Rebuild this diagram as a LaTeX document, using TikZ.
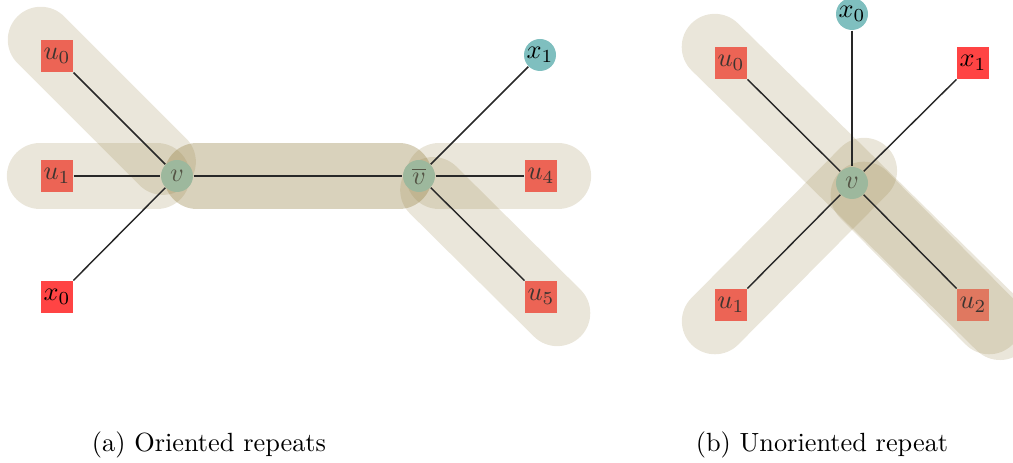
\documentclass[tikz,border=0pt]{standalone}
\usetikzlibrary{calc,backgrounds}
\definecolor{hlc}{RGB}{150,130,70}
\definecolor{ured}{RGB}{236,100,85}
\definecolor{xred}{RGB}{255,68,68}
\definecolor{xteal}{RGB}{127,191,191}
\definecolor{vgreen}{RGB}{157,184,157}
\definecolor{utwo}{RGB}{224,120,96}
\definecolor{edgec}{RGB}{40,40,40}
\begin{document}
\begin{tikzpicture}[x=0.38pt,y=-0.38pt,
  sq/.style={rectangle,draw=none,inner sep=0pt,minimum size=12.16pt,font=\color[RGB]{60,52,48}},
  usq/.style={sq,fill=ured},
  xsq/.style={sq,fill=xred,font=\color{black}},
  tcirc/.style={circle,draw=none,inner sep=0pt,minimum size=12.16pt,fill=xteal},
  vcirc/.style={circle,draw=none,inner sep=0pt,minimum size=12.16pt,fill=vgreen,font=\color[RGB]{85,85,70}},
  band/.style={line width=25.1pt,line cap=round,draw=hlc,draw opacity=0.2},
  edge/.style={draw=edgec,line width=0.55pt},
  captext/.style={font=\normalsize}]
\useasboundingbox (0,0) rectangle (1013,463);

% (a) two oriented repeats around v and its reverse
\node[usq] (au0) at (57,56) {$u_0$};
\node[usq] (au1) at (57,176) {$u_1$};
\node[xsq] (ax0) at (57,297) {$x_0$};
\node[vcirc] (av) at (177,176) {$v$};
\node[vcirc] (avb) at (419,176) {$\overline{v}$};
\node[tcirc] (ax1) at (540,55) {$x_1$};
\node[usq] (au4) at (541,176) {$u_4$};
\node[usq] (au5) at (541,297) {$u_5$};

% (b) one unoriented repeat through v
\node[tcirc] (bx0) at (852,14) {$x_0$};
\node[usq] (bu0) at (731,63) {$u_0$};
\node[xsq] (bx1) at (973,63) {$x_1$};
\node[vcirc] (bv) at (852,183) {$v$};
\node[usq] (bu1) at (731,305) {$u_1$};
\node[sq,fill=utwo] (bu2) at (973,305) {$u_2$};

\coordinate (bfar) at (1000,327);

\begin{scope}[on background layer]
  % highlighted repeat paths; the shared v--vbar stretch belongs to both repeats
  \draw[band] ($(au0)!-8.7pt!(av)$) -- ($(av)!7.6pt!(au0)$);
  \draw[band] ($(au1)!-6.5pt!(av)$) -- ($(av)!7.6pt!(au1)$);
  \draw[band] ($(av)!7.6pt!(avb)$) -- ($(avb)!7.6pt!(av)$);
  \draw[band] ($(av)!7.6pt!(avb)$) -- ($(avb)!7.6pt!(av)$);
  \draw[band] ($(avb)!7.6pt!(au4)$) -- ($(au4)!-6.5pt!(avb)$);
  \draw[band] ($(avb)!7.6pt!(au5)$) -- ($(au5)!-8.7pt!(avb)$);

  \draw[band] ($(bu0)!-8.7pt!(bv)$) -- (bfar);
  \draw[band] ($(bu1)!-8.7pt!(bv)$) -- ($(bv)!-6.5pt!(bu1)$);
  \draw[band] (bv) -- ($(bu2)!-8.7pt!(bv)$);

  % graph edges
  \draw[edge] (au0) -- (av);
  \draw[edge] (au1) -- (av);
  \draw[edge] (ax0) -- (av);
  \draw[edge] (av) -- (avb);
  \draw[edge] (avb) -- (ax1);
  \draw[edge] (avb) -- (au4);
  \draw[edge] (avb) -- (au5);

  \draw[edge] (bx0) -- (bv);
  \draw[edge] (bu0) -- (bv);
  \draw[edge] (bx1) -- (bv);
  \draw[edge] (bu1) -- (bv);
  \draw[edge] (bu2) -- (bv);
\end{scope}

\node[captext] (capa) at (209,445) {(a) Oriented repeats};
\node[captext] (capb) at (822,445) {(b) Unoriented repeat};
\end{tikzpicture}
\end{document}
